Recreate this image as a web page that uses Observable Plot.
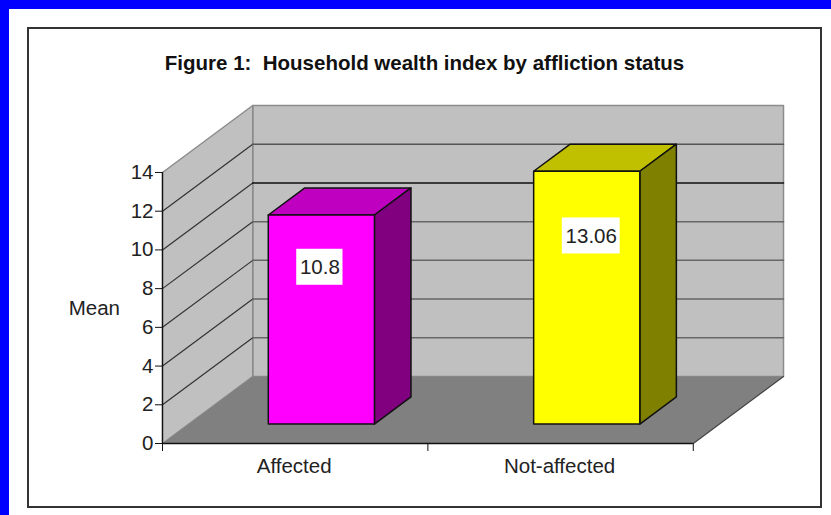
<!DOCTYPE html>
<html>
<head>
<meta charset="utf-8">
<script src="https://cdn.jsdelivr.net/npm/d3@7"></script>
<script src="https://cdn.jsdelivr.net/npm/@observablehq/plot@0.6"></script>
<style>
html,body{margin:0;padding:0;background:#fff;}
#page{box-sizing:border-box;width:831px;height:515px;border-top:9px solid #0000ff;border-left:9px solid #0000ff;padding:18px 9px 0 18px;overflow:hidden;}
#frame{box-sizing:border-box;width:795px;height:481px;border:2px solid #333;position:relative;}
#title{height:61px;box-sizing:border-box;padding-top:22px;text-align:center;font:bold 20.5px "Liberation Sans",Arial,sans-serif;color:#111;white-space:pre;line-height:24px;}
svg{display:block;}
</style>
</head>
<body>
<div id="page"><div id="frame"><div id="title">Figure 1:  Household wealth index by affliction status</div><div id="chart"></div></div></div>
<script>
const categories = ["Affected", "Not-affected"];
const means = [10.8, 13.06];
const yTicks = [0, 2, 4, 6, 8, 10, 12, 14];
const gridValues = [2, 4, 6, 8, 10, 12];
const backGridColors = ["#666", "#666", "#666", "#666", "#111", "#555"];
const frontColors = ["#ff00ff", "#ffff00"];
const topColors = ["#c000c0", "#c0c000"];
const sideColors = ["#800080", "#808000"];
const labelShift = [-1.5, 4.5];
const labelDrop = [0, 1.5];

const depthX = 0.34, depthY = 3.46;   // oblique depth, in x and y data units
const nCat = categories.length, yMax = 14;
const barHalf = 0.2, d0 = 0.29, d1 = 0.695;
const P = (x, v, d = 0) => ({x: x + d * depthX, y: v + d * depthY});
const poly = (pts, o) => Plot.line(pts, {x: "x", y: "y", curve: "linear-closed", ...o});
const seg = (a, b, o) => Plot.line([a, b], {x: "x", y: "y", ...o});

const marks = [];
// walls and floor
marks.push(poly([P(0,0,1), P(nCat,0,1), P(nCat,yMax,1), P(0,yMax,1)], {fill: "#c0c0c0", stroke: "#8c8c8c", strokeWidth: 1.5}));
marks.push(poly([P(0,0,0), P(0,0,1), P(0,yMax,1), P(0,yMax,0)], {fill: "#c0c0c0", stroke: "#8c8c8c", strokeWidth: 1.5}));
marks.push(poly([P(0,0,0), P(nCat,0,0), P(nCat,0,1), P(0,0,1)], {fill: "#808080", stroke: "none"}));
marks.push(seg(P(nCat,0,0), P(nCat,0,1), {stroke: "#444", strokeWidth: 1.2}));
// grid
gridValues.forEach((v, i) => {
  marks.push(seg(P(0,v,0), P(0,v,1), {stroke: "#333", strokeWidth: 1.2}));
  marks.push(seg(P(0,v,1), P(nCat,v,1), {stroke: backGridColors[i], strokeWidth: 1.5}));
});
// bars
means.forEach((v, i) => {
  const xa = i + 0.5 - barHalf, xb = i + 0.5 + barHalf;
  const edge = {stroke: "#111", strokeWidth: 1.5, strokeLinejoin: "round"};
  marks.push(poly([P(xa,v,d0), P(xb,v,d0), P(xb,v,d1), P(xa,v,d1)], {fill: topColors[i], ...edge}));
  marks.push(poly([P(xb,0,d0), P(xb,0,d1), P(xb,v,d1), P(xb,v,d0)], {fill: sideColors[i], ...edge}));
  marks.push(poly([P(xa,0,d0), P(xb,0,d0), P(xb,v,d0), P(xa,v,d0)], {fill: frontColors[i], ...edge}));
});
// value labels
means.forEach((v, i) => {
  const c = P(i + 0.5, v * 0.75, d0);
  const s = String(v), hw = s.length * 0.0218;
  marks.push(Plot.rect([c], {x1: d => d.x - hw, x2: d => d.x + hw, y1: d => d.y - 0.93, y2: d => d.y + 0.93, fill: "#fff", dx: labelShift[i], dy: labelDrop[i]}));
  marks.push(Plot.text([c], {x: "x", y: "y", text: () => s, fontSize: 20.5, fill: "#222", dx: labelShift[i], dy: 0.5 + labelDrop[i]}));
});
// axes
marks.push(Plot.ruleX([0], {y1: 0, y2: yMax, stroke: "#111", strokeWidth: 1.3}));
marks.push(Plot.ruleY([0], {x1: 0, x2: nCat, stroke: "#111", strokeWidth: 1.5}));
marks.push(Plot.axisY({ticks: yTicks, tickSize: 7, tickPadding: 2, tickFormat: d => String(d), fontSize: 20.5, color: "#222", stroke: "#111", label: null}));
marks.push(Plot.axisX({ticks: [0, 1, 2], tickSize: 8, tickFormat: () => "", stroke: "#111", label: null}));
marks.push(Plot.axisX({ticks: categories.map((c, i) => i + 0.5), tickSize: 0, tickPadding: 15, tickFormat: d => categories[d - 0.5], fontSize: 20.5, color: "#222", label: null, dx: -1}));
marks.push(Plot.text(["Mean"], {x: [-0.257], y: [7], text: d => d, fontSize: 20.5, fill: "#222"}));

const chart = Plot.plot({
  width: 791, height: 416,
  marginLeft: 133, marginRight: 37, marginTop: 15, marginBottom: 63,
  style: {background: "transparent", fontFamily: '"Liberation Sans",Arial,sans-serif', overflow: "visible"},
  x: {type: "linear", domain: [0, nCat + depthX]},
  y: {type: "linear", domain: [0, yMax + depthY]},
  marks
});
document.getElementById("chart").appendChild(chart);
</script>
</body>
</html>
